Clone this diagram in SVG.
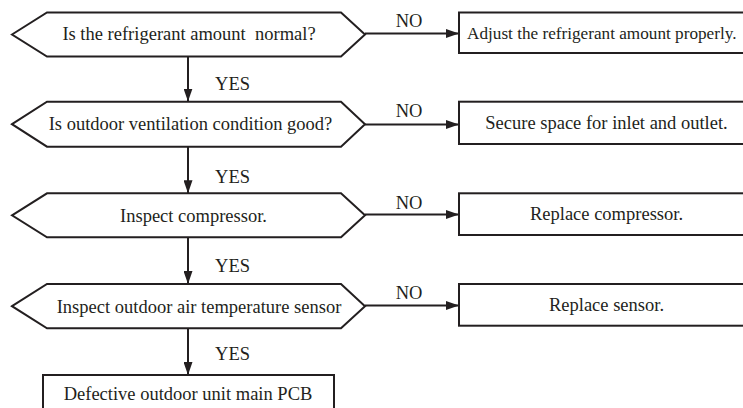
<svg xmlns="http://www.w3.org/2000/svg" width="743" height="408" viewBox="0 0 743 408">
<defs>
<style>
.shape{fill:#fff;stroke:#231f20;stroke-width:2}
.ln{stroke:#231f20;stroke-width:2;fill:none}
text{font-family:"Liberation Serif","Times New Roman",serif;font-size:18.5px;fill:#231f20}
.c{text-anchor:middle}
</style>
<marker id="ah" viewBox="0 0 13 9" refX="13" refY="4.5" markerWidth="13" markerHeight="9" markerUnits="userSpaceOnUse" orient="auto">
<path d="M0,0 L13,4.5 L0,9 Z" fill="#231f20"/>
</marker>
</defs>
<rect width="743" height="408" fill="#fff"/>
<g id="connectors">
<line class="ln" x1="188" y1="56.5" x2="188" y2="101.5" marker-end="url(#ah)"/>
<line class="ln" x1="188" y1="146.5" x2="188" y2="193.3" marker-end="url(#ah)"/>
<line class="ln" x1="188" y1="237.3" x2="188" y2="284" marker-end="url(#ah)"/>
<line class="ln" x1="188" y1="328.3" x2="188" y2="375" marker-end="url(#ah)"/>
<line class="ln" x1="365" y1="33.5" x2="459" y2="33.5" marker-end="url(#ah)"/>
<line class="ln" x1="365" y1="124.5" x2="459" y2="124.5" marker-end="url(#ah)"/>
<line class="ln" x1="365" y1="214.5" x2="459" y2="214.5" marker-end="url(#ah)"/>
<line class="ln" x1="365" y1="305.5" x2="459" y2="305.5" marker-end="url(#ah)"/>
<text class="c" x="232.5" y="90">YES</text>
<text class="c" x="232.5" y="183">YES</text>
<text class="c" x="232.5" y="272">YES</text>
<text class="c" x="232.5" y="360">YES</text>
<text class="c" x="409" y="27">NO</text>
<text class="c" x="409" y="117">NO</text>
<text class="c" x="409" y="208.5">NO</text>
<text class="c" x="409" y="298.5">NO</text>
</g>
<g id="q1">
<polygon class="shape" points="12,34.5 47,12.5 341,12.5 365,34.5 341,56.5 47,56.5"/>
<text class="c" x="189" y="39.5" xml:space="preserve">Is the refrigerant amount  normal?</text>
</g>
<g id="q2">
<polygon class="shape" points="12,124.2 47,101.7 341,101.7 365,124.2 341,146.7 47,146.7"/>
<text class="c" x="190.5" y="130">Is outdoor ventilation condition good?</text>
</g>
<g id="q3">
<polygon class="shape" points="12,215.3 47,193.3 341,193.3 365,215.3 341,237.3 47,237.3"/>
<text class="c" x="193.5" y="221.5">Inspect compressor.</text>
</g>
<g id="q4">
<polygon class="shape" points="12,306.2 47,284 341,284 365,306.2 341,328.3 47,328.3"/>
<text class="c" x="199" y="312.5">Inspect outdoor air temperature sensor</text>
</g>
<g id="a1">
<rect class="shape" x="459" y="12.5" width="300" height="40.5"/>
<text x="467" y="38.5" style="font-size:17.2px">Adjust the refrigerant amount properly.</text>
</g>
<g id="a2">
<rect class="shape" x="459" y="101.7" width="300" height="42.3"/>
<text class="c" x="606.5" y="129">Secure space for inlet and outlet.</text>
</g>
<g id="a3">
<rect class="shape" x="459" y="193.3" width="300" height="41.7"/>
<text class="c" x="606.5" y="220">Replace compressor.</text>
</g>
<g id="a4">
<rect class="shape" x="459" y="284" width="300" height="41.7"/>
<text class="c" x="606.5" y="310.5">Replace sensor.</text>
</g>
<g id="end">
<rect class="shape" x="43" y="375" width="291" height="45"/>
<text class="c" x="188" y="399.5">Defective outdoor unit main PCB</text>
</g>
</svg>
